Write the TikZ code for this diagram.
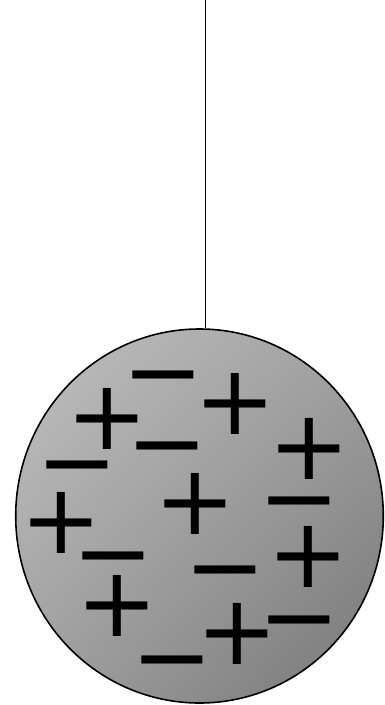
\documentclass[tikz,border=0pt]{standalone}
\usepackage{fontspec}
\usetikzlibrary{shadings,shapes.geometric}
\newfontfamily\signfont{DejaVu Sans}
\definecolor{gUL}{RGB}{192,192,192}
\definecolor{gMid}{RGB}{160,160,160}
\definecolor{gLR}{RGB}{118,118,118}
\begin{document}
\begin{tikzpicture}[x=1pt,y=-1pt,
  sign/.style={inner sep=0pt,outer sep=0pt,anchor=base,font=\signfont\fontsize{97.4}{97.4}\selectfont},
  ball/.style={draw=black,line width=1.6pt,upper left=gUL,upper right=gMid,lower left=gMid,lower right=gLR}]
\useasboundingbox (0,0) rectangle (385,705);
\coordinate (top) at (205,0);
\node[ball,ellipse,minimum width=367.6pt,minimum height=374pt,inner sep=0pt] (sphere) at (199.5,516) {};
\draw[line width=1pt] (top) -- (top |- sphere.north);
% plus signs
\node[sign] (p1) at (107.5,449.8) {+};
\node[sign] (p2) at (235,434.8) {+};
\node[sign] (p3) at (309,479.8) {+};
\node[sign] (p4) at (195,534.2) {+};
\node[sign] (p5) at (61.5,553) {+};
\node[sign] (p6) at (308.5,587.3) {+};
\node[sign] (p7) at (117.5,636.8) {+};
\node[sign] (p8) at (237,664.8) {+};
% minus signs
\node[sign] (m1) at (163.7,405.8) {−};
\node[sign] (m2) at (167,476.1) {−};
\node[sign] (m3) at (77,495.1) {−};
\node[sign] (m4) at (299.7,531.8) {−};
\node[sign] (m5) at (113,586.8) {−};
\node[sign] (m6) at (225.7,600.8) {−};
\node[sign] (m7) at (299,650.5) {−};
\node[sign] (m8) at (172.3,690.8) {−};
\end{tikzpicture}
\end{document}
